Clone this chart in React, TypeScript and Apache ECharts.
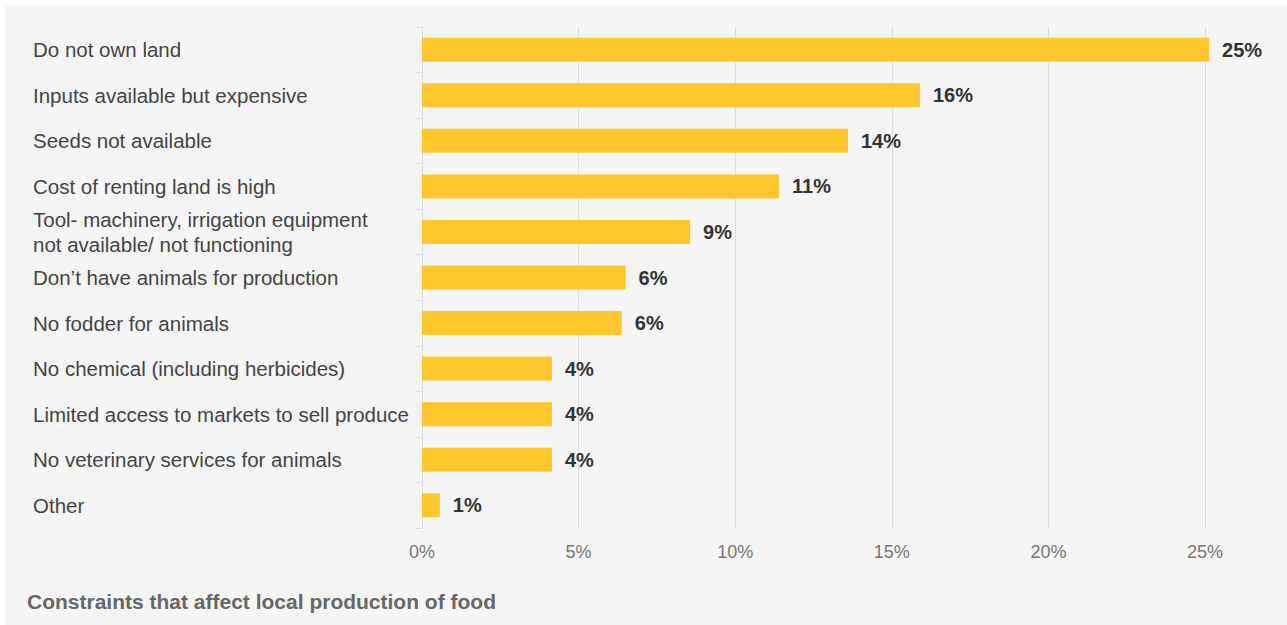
import React, { useEffect, useRef } from "react";
import * as echarts from "echarts";

const categories = [
  "Do not own land",
  "Inputs available but expensive",
  "Seeds not available",
  "Cost of renting land is high",
  "Tool- machinery, irrigation equipment\nnot available/ not functioning",
  "Don’t have animals for production",
  "No fodder for animals",
  "No chemical (including herbicides)",
  "Limited access to markets to sell produce",
  "No veterinary services for animals",
  "Other",
];
const values = [25.13, 15.9, 13.6, 11.4, 8.56, 6.5, 6.38, 4.15, 4.15, 4.15, 0.57];
const valueLabels = ["25%", "16%", "14%", "11%", "9%", "6%", "6%", "4%", "4%", "4%", "1%"];
const xTicks = [0, 5, 10, 15, 20, 25];
const title = "Constraints that affect local production of food";

const FONT = "'Liberation Sans', Arial, sans-serif";

export default function App() {
  const ref = useRef<HTMLDivElement>(null);
  useEffect(() => {
    if (!ref.current) return;
    const chart = echarts.init(ref.current, null, { renderer: "svg" });
    chart.setOption({
      animation: false,
      backgroundColor: "#f5f5f5",
      textStyle: { fontFamily: FONT },
      title: {
        text: title,
        left: 17,
        top: 581,
        textStyle: { fontFamily: FONT, fontSize: 21, fontWeight: "bold", color: "#676767" },
      },
      grid: { left: 417, right: 82, top: 22, height: 501 },
      xAxis: {
        type: "value",
        min: xTicks[0],
        max: xTicks[xTicks.length - 1],
        interval: xTicks[1] - xTicks[0],
        axisLine: { show: false },
        axisTick: { show: false },
        splitLine: { lineStyle: { color: "#dddddd", width: 1 } },
        axisLabel: {
          formatter: "{value}%",
          color: "#777777",
          fontSize: 18,
          fontFamily: FONT,
          margin: 15,
        },
      },
      yAxis: {
        type: "category",
        inverse: true,
        data: categories,
        axisLine: { lineStyle: { color: "#dddddd" } },
        axisTick: { show: true, length: 6, lineStyle: { color: "#dddddd" } },
        axisLabel: {
          align: "left",
          margin: 389,
          color: "#444444",
          fontSize: 20.5,
          lineHeight: 25,
          fontFamily: FONT,
        },
      },
      series: [
        {
          type: "bar",
          data: values,
          barWidth: 24,
          clip: false,
          itemStyle: { color: "#ffc72c" },
          label: {
            show: true,
            position: "right",
            distance: 13,
            formatter: (p: any) => valueLabels[p.dataIndex],
            color: "#333333",
            fontSize: 20,
            fontWeight: "bold",
            fontFamily: FONT,
          },
        },
      ],
    });
    return () => chart.dispose();
  }, []);
  return (
    <div
      ref={ref}
      style={{ position: "absolute", left: 5, top: 5, width: 1282, height: 620 }}
    />
  );
}
